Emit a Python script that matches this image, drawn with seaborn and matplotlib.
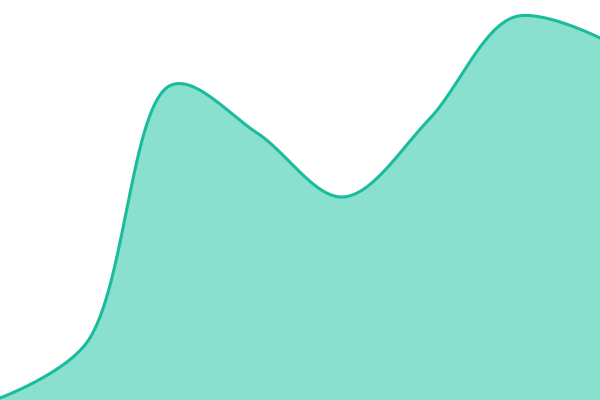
import numpy as np
import pandas as pd
import matplotlib
matplotlib.use('Agg')
import matplotlib.pyplot as plt
import seaborn as sns

# ── Data ──────────────────────────────────────────────────
steps  = [0, 1, 2, 3, 4, 5, 6, 7]
values = [2, 56, 315, 267, 203, 280, 383, 362]

LINE = '#1abc9c'
FILL = '#8ae0cf'
W, H = 600, 400


def catmull_rom(px, py, alpha=0.5, n=60):
    # centripetal Catmull-Rom in pixel space, end handling as in d3
    P = np.column_stack([px, py]).astype(float)
    pts = np.vstack([P[:1], P, P[-1:]])
    t = np.linspace(0, 1, n, endpoint=False)[:, None]
    out = []
    for i in range(1, len(pts) - 2):
        p0, p1, p2, p3 = pts[i - 1], pts[i], pts[i + 1], pts[i + 2]
        l01 = np.linalg.norm(p1 - p0) ** alpha
        l12 = np.linalg.norm(p2 - p1) ** alpha
        l23 = np.linalg.norm(p3 - p2) ** alpha
        c1, c2 = p1.copy(), p2.copy()
        if l01 > 1e-12:
            a = 2 * l01**2 + 3 * l01 * l12 + l12**2
            c1 = (p1 * a - p0 * l12**2 + p2 * l01**2) / (3 * l01 * (l01 + l12))
        if l23 > 1e-12:
            b = 2 * l23**2 + 3 * l23 * l12 + l12**2
            c2 = (p2 * b + p1 * l23**2 - p3 * l12**2) / (3 * l23 * (l23 + l12))
        seg = ((1 - t)**3 * p1 + 3 * (1 - t)**2 * t * c1
               + 3 * (1 - t) * t**2 * c2 + t**3 * p2)
        out.append(seg)
    out.append(P[-1:])
    return np.vstack(out)


# work in pixels so the spline spacing matches the drawn picture
xpix = np.array(steps, float) / steps[-1] * W
ypix = np.array(values, float) / 400 * H
curve_pts = catmull_rom(xpix, ypix)
curve = pd.DataFrame({'step': curve_pts[:, 0] / W * steps[-1],
                      'value': curve_pts[:, 1] / H * 400})

sns.set_style('white')
fig = plt.figure(figsize=(6, 4), dpi=100)
ax = fig.add_axes([0, 0, 1, 1])

ax.fill_between(curve['step'], curve['value'], 0, color=FILL, linewidth=0)
sns.lineplot(data=curve, x='step', y='value', ax=ax, color=LINE,
             linewidth=2.2, sort=False)

ax.set_xlim(steps[0], steps[-1])
ax.set_ylim(0, 400)
ax.axis('off')

fig.savefig('out.png', dpi=100)
